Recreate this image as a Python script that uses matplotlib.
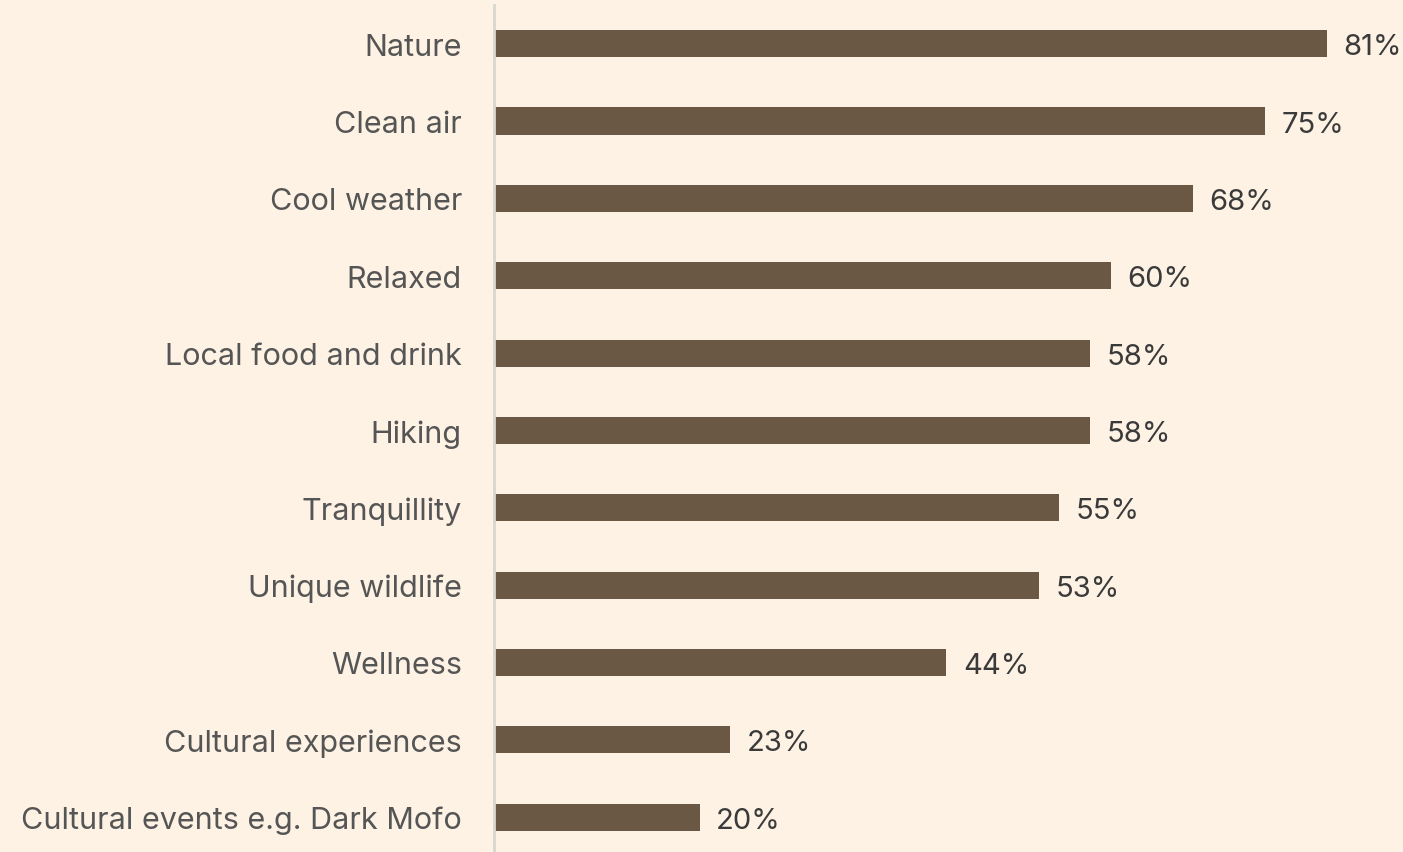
import matplotlib
matplotlib.use('Agg')
import matplotlib.pyplot as plt

categorias = ['Nature', 'Clean air', 'Cool weather', 'Relaxed', 'Local food and drink',
              'Hiking', 'Tranquillity', 'Unique wildlife', 'Wellness',
              'Cultural experiences', 'Cultural events e.g. Dark Mofo']
valores = [81, 75, 68, 60, 58, 58, 55, 53, 44, 23, 20]

fundo = '#FDF2E4'
cor_barra = '#6B5844'

plt.rcParams['font.family'] = ['Inter', 'DejaVu Sans']

fig = plt.figure(figsize=(14.03, 8.53), dpi=100, facecolor=fundo)
ax = fig.add_axes([0.352, 0.0, 0.648, 0.993])
ax.set_facecolor(fundo)

pos = list(range(len(categorias)))
ax.barh(pos, valores, height=0.35, color=cor_barra)

for p, v in zip(pos, valores):
    ax.text(v + 1.6, p, f'{v}%', va='center_baseline', ha='left', fontsize=21, color='#3A3A3A')

ax.set_xlim(0, 88.4)
ax.set_ylim(10.45, -0.5)
ax.set_yticks(pos)
ax.set_yticklabels(categorias, fontsize=22, color='#555555', va='center_baseline')
ax.tick_params(axis='y', length=0, pad=23)
ax.set_xticks([])

for lado in ['top', 'right', 'bottom']:
    ax.spines[lado].set_visible(False)
ax.spines['left'].set_color('#D9D6D0')
ax.spines['left'].set_linewidth(2)

fig.savefig('out.png', dpi=100, facecolor=fundo)
